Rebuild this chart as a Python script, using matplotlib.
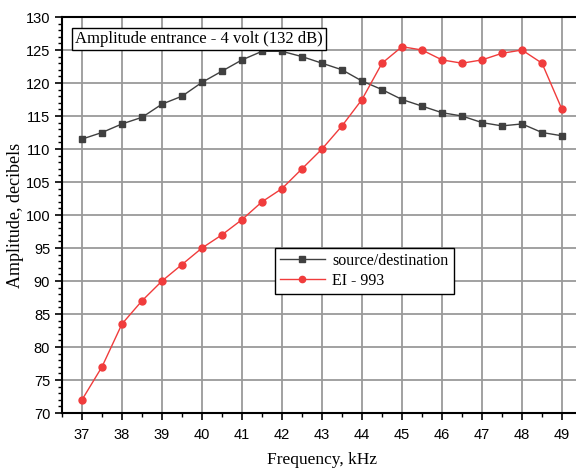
import matplotlib
matplotlib.use("Agg")
import matplotlib.pyplot as plt
from matplotlib.ticker import MultipleLocator

freq = [37, 37.5, 38, 38.5, 39, 39.5, 40, 40.5, 41, 41.5, 42, 42.5, 43, 43.5,
        44, 44.5, 45, 45.5, 46, 46.5, 47, 47.5, 48, 48.5, 49]
source_dest = [111.5, 112.5, 113.8, 114.8, 116.8, 118.0, 120.1, 121.8, 123.5, 124.8,
               124.8, 124.0, 123.0, 122.0, 120.3, 119.0, 117.5, 116.5, 115.5, 115.0,
               114.0, 113.5, 113.8, 112.5, 112.0]
ei_993 = [72.0, 77.0, 83.5, 87.0, 90.0, 92.5, 95.0, 97.0, 99.3, 102.0,
          104.0, 107.0, 110.0, 113.5, 117.5, 123.0, 125.5, 125.0, 123.5, 123.0,
          123.5, 124.5, 125.0, 123.0, 116.0]
x_ticks = list(range(37, 50))
y_ticks = list(range(70, 131, 5))

serif = "Liberation Serif"
sans = "Liberation Sans"

fig = plt.figure(figsize=(5.76, 4.68), dpi=100)
ax = fig.add_axes([62/576, 1 - 413/468, 520/576, (413 - 17)/468])

ax.grid(True, which="major", color="#9a9a9a", linewidth=1.3, zorder=0)
ax.plot(freq, source_dest, color="#404040", linewidth=1.0, marker="s",
        markersize=4.5, label="source/destination", zorder=3)
ax.plot(freq, ei_993, color="#f03c3c", linewidth=1.0, marker="o",
        markersize=5, label="EI - 993", zorder=3)

ax.set_xlim(36.5, 49.5)
ax.set_ylim(70, 130)
ax.set_xticks(x_ticks)
ax.set_yticks(y_ticks)
ax.xaxis.set_minor_locator(MultipleLocator(0.5))
ax.yaxis.set_minor_locator(MultipleLocator(1))
ax.tick_params(which="major", direction="out", length=5, width=1.2, labelsize=10.5)
ax.tick_params(axis="x", which="major", pad=6)
ax.tick_params(which="minor", direction="out", length=3, width=1.0)
for lab in ax.get_xticklabels() + ax.get_yticklabels():
    lab.set_fontfamily(sans)

for s in ["left", "bottom", "top"]:
    ax.spines[s].set_linewidth(1.5)
ax.spines["right"].set_visible(False)

ax.set_xlabel("Frequency, kHz", fontfamily=serif, fontsize=12.5, labelpad=7)
ax.set_ylabel("Amplitude, decibels", fontfamily=serif, fontsize=13, labelpad=1)

ax.text(0.025, 0.965, "Amplitude entrance - 4 volt (132 dB)", transform=ax.transAxes,
        fontfamily=serif, fontsize=12, va="top", ha="left",
        bbox=dict(boxstyle="square,pad=0.2", facecolor="white", edgecolor="black", linewidth=1.0),
        zorder=5)

leg = ax.legend(loc="upper left", bbox_to_anchor=((275 - 62)/520, (413 - 248)/396),
                prop={"family": serif, "size": 11.5}, frameon=True, fancybox=False,
                edgecolor="black", framealpha=1, borderpad=0.3, labelspacing=0.25,
                handlelength=2.8, handletextpad=0.5, borderaxespad=0)
leg.get_frame().set_linewidth(1.0)
for h in leg.legend_handles:
    h.set_markersize(4.5)

fig.savefig("out.png", dpi=100)
